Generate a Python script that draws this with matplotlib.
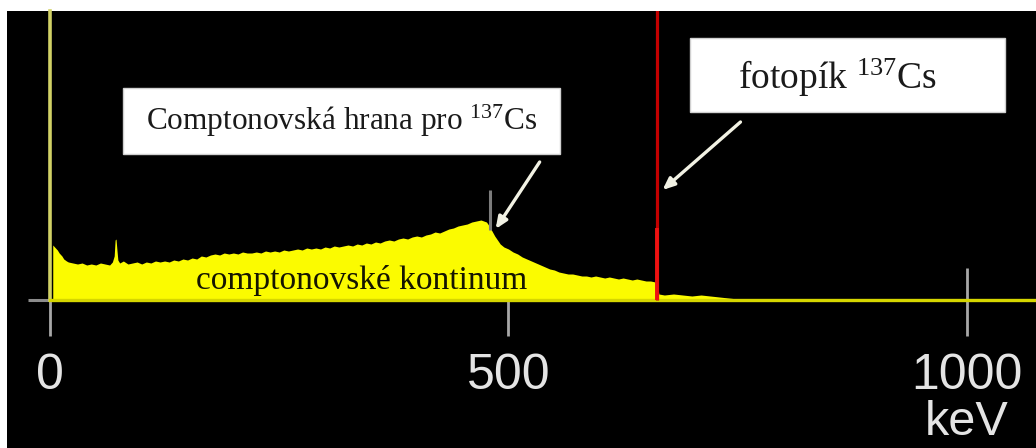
import matplotlib
matplotlib.use('Agg')
import matplotlib.pyplot as plt
from matplotlib.patches import Rectangle

# gamma spectrum of Cs-137 (energy in keV, counts in arbitrary units)
energy_kev = [3, 5, 8, 10, 13, 15, 18, 20, 25, 30, 35, 40, 45, 50, 55, 60, 65, 68, 70, 71,
              72, 73, 74, 76, 80, 85, 90, 95, 100, 105, 110, 115, 120, 125, 130, 135, 140, 145, 150, 155,
              160, 165, 170, 175, 180, 185, 190, 195, 200, 205, 210, 215, 220, 225, 230, 235, 240, 245, 250, 255,
              260, 265, 270, 275, 280, 285, 290, 295, 300, 305, 310, 315, 320, 325, 330, 335, 340, 345, 350, 355,
              360, 365, 370, 375, 380, 385, 390, 395, 400, 405, 410, 415, 420, 425, 430, 435, 440, 445, 450, 455,
              460, 465, 470, 473, 476, 479, 482, 485, 488, 491, 495, 500, 505, 510, 515, 520, 525, 530, 535, 540,
              545, 550, 555, 560, 565, 570, 575, 580, 585, 590, 595, 600, 605, 610, 615, 620, 625, 630, 635, 640,
              645, 650, 655, 660, 662, 664, 670, 680, 690, 700, 710, 720, 730, 740, 750, 760, 1075]
counts = [55, 53, 50, 47, 44, 41, 39, 38, 37, 36, 37, 35, 36, 35, 37, 36, 35, 38, 44, 60,
          61, 50, 40, 37, 39, 36, 37, 38, 36, 38, 37, 39, 38, 39, 38, 40, 39, 41, 40, 42,
          41, 44, 43, 45, 46, 45, 47, 46, 47, 46, 48, 47, 47, 48, 47, 49, 48, 49, 48, 50,
          49, 50, 51, 50, 52, 51, 52, 51, 53, 52, 54, 53, 54, 55, 54, 56, 55, 57, 56, 58,
          57, 59, 60, 59, 61, 62, 61, 63, 64, 63, 65, 66, 68, 67, 69, 71, 72, 74, 75, 76,
          78, 79, 80, 79, 78, 74, 69, 64, 60, 56, 53, 51, 48, 46, 43, 41, 39, 37, 35, 33,
          31, 30, 28, 27, 26, 26, 25, 24, 24, 23, 24, 23, 22, 23, 22, 21, 22, 21, 20, 21,
          20, 19, 19, 18, 18, 6, 5, 6, 5, 4, 5, 4, 3, 2, 1, 0, 0]

photopeak_kev = 662
photopeak_counts = 2500
compton_edge_kev = 480
tick_values = [0, 500, 1000]
tick_labels = ['0', '500', '1000']

fig = plt.figure(figsize=(10.36, 4.48), dpi=100, facecolor='white')
ax = fig.add_axes([7 / 1036, 0, 1029 / 1036, 437 / 448], facecolor='black')
ax.set_xlim(-46.9, 1075.3)
ax.set_ylim(-148, 289)

# spectrum
ax.fill_between(energy_kev, 0, counts, color='#fbfb00', linewidth=0, zorder=2)

# photopeak (off scale)
ax.vlines(photopeak_kev, 0, photopeak_counts, color='#c40000', linewidth=2.3, zorder=4)
ax.vlines(photopeak_kev, 0, 72, color='#ee1111', linewidth=2.8, zorder=4)

# compton edge marker
ax.vlines(compton_edge_kev, 70, 110, color='#7c7c7c', linewidth=2.2, zorder=3)

# axes styling
for s in ['top', 'right']:
    ax.spines[s].set_visible(False)
ax.spines['bottom'].set_position(('data', 0))
ax.spines['bottom'].set_bounds(0, 1075.3)
ax.spines['bottom'].set_color('#d6d600')
ax.spines['bottom'].set_linewidth(2.4)
ax.spines['bottom'].set_zorder(3)
ax.spines['left'].set_position(('data', 0))
ax.spines['left'].set_bounds(0, 289)
ax.spines['left'].set_color('#d2d266')
ax.spines['left'].set_linewidth(2.6)

ax.set_xticks(tick_values)
ax.set_xticklabels(tick_labels, family='Liberation Sans', fontsize=36, color='#e4e4e4')
ax.tick_params(axis='x', direction='out', length=26, width=2.0, color='#a8a8a8', pad=12)
ax.set_yticks([0])
ax.set_yticklabels([])
ax.tick_params(axis='y', direction='out', length=16, width=2.2, color='#8c8c8c')
# the 1000 keV tick reaches up above the baseline
ax.vlines(1000, 0, 32, color='#a8a8a8', linewidth=2.0, zorder=3)

ax.set_xlabel('keV', family='Liberation Sans', fontsize=35, color='#e4e4e4')
ax.xaxis.set_label_coords(1000, -100, transform=ax.transData)

ax.text(340, 19, 'comptonovské kontinum', family='Liberation Serif', fontsize=24,
        color='#141400', ha='center', va='center', zorder=5)

# labels in white boxes
ax.add_patch(Rectangle((79.6, 146), 476.4, 66, facecolor='white', edgecolor='#d0d0d0',
                       linewidth=1, zorder=6))
ax.text(318, 179, 'Comptonovská hrana pro $\\mathregular{^{137}}$Cs', family='Liberation Serif',
        fontsize=22.5, color='#1a1a1a', ha='center', va='center', zorder=7)
ax.add_patch(Rectangle((698, 188), 343, 74, facecolor='white', edgecolor='#d0d0d0',
                       linewidth=1, zorder=6))
ax.text(859, 222, 'fotopík $\\mathregular{^{137}}$Cs', family='Liberation Serif',
        fontsize=27, color='#1a1a1a', ha='center', va='center', zorder=7)

arrow = dict(arrowstyle='-|>,head_length=0.7,head_width=0.3', color='#f2f2e4', lw=2.4,
             shrinkA=0, shrinkB=0)
ax.annotate('', xy=(486, 71), xytext=(534, 138), arrowprops=arrow, zorder=8)
ax.annotate('', xy=(668, 110), xytext=(753, 178), arrowprops=arrow, zorder=8)

fig.savefig('out.png', dpi=100, facecolor='white')
